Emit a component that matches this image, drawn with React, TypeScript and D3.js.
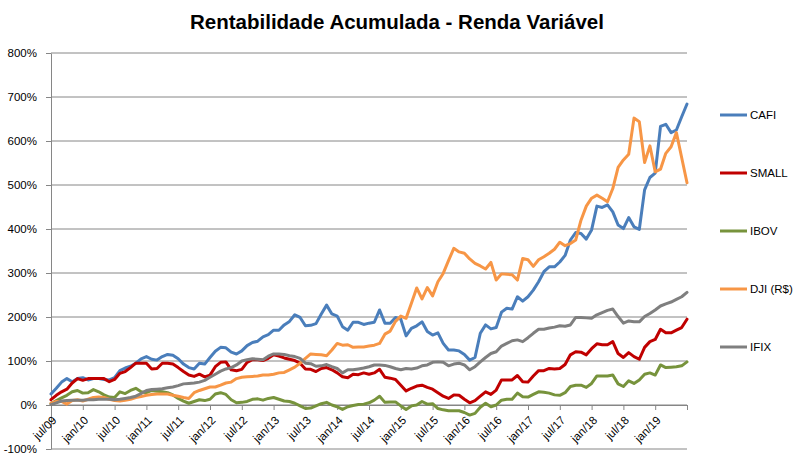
import React, { useEffect, useRef } from "react";
import * as d3 from "d3";

const width = 797;
const height = 463;
const plot = { left: 51, right: 687, top: 53, bottom: 449 };
const font = "'Liberation Sans', Arial, sans-serif";

// one value per month, jul/09 .. jul/19 (accumulated return, %)
const tickLabels = [
  "jul/09", "jan/10", "jul/10", "jan/11", "jul/11", "jan/12", "jul/12", "jan/13", "jul/13", "jan/14",
  "jul/14", "jan/15", "jul/15", "jan/16", "jul/16", "jan/17", "jul/17", "jan/18", "jul/18", "jan/19"
];
const yTicks = [-100, 0, 100, 200, 300, 400, 500, 600, 700, 800];

const cafi = [
  25, 38, 52, 60, 53, 60, 62, 57, 60, 60, 58, 57,
  62, 78, 84, 88, 95, 105, 110, 104, 102, 110, 115, 113,
  105, 93, 85, 82, 95, 93, 108, 122, 131, 130, 120, 116,
  123, 135, 142, 145, 155, 160, 170, 170, 182, 190,
  205, 199, 180, 181, 185, 207, 227, 207, 202, 178, 170, 188,
  188, 183, 186, 188, 216, 186, 186, 199, 195, 157, 174, 180,
  189, 167, 159, 164, 140, 125, 125, 123, 115, 102, 108, 163,
  182, 173, 176, 211, 220, 218, 246, 236, 246, 261, 280, 303,
  314, 314, 325, 340, 375, 392, 390, 377, 398, 452, 449, 455,
  439, 409, 401, 426, 405, 399, 489, 517, 527, 633, 638, 619,
  625, 655, 684
];
const small = [
  12, 22, 30, 36, 50, 60, 56, 60, 60, 60, 60, 53,
  58, 72, 76, 85, 95, 95, 95, 82, 83, 95, 95, 93,
  85, 76, 68, 65, 70, 64, 68, 87, 97, 98, 80, 78,
  81, 97, 103, 103, 101, 106, 114, 111, 107, 104,
  101, 95, 82, 81, 76, 83, 85, 80, 73, 64, 62, 70,
  69, 73, 70, 73, 81, 63, 61, 58, 45, 32, 38, 43,
  45, 40, 36, 28, 20, 15, 23, 22, 13, 5, 10, 20,
  30, 24, 34, 57, 57, 57, 67, 53, 52, 66, 78, 78,
  83, 82, 83, 92, 114, 121, 120, 114, 128, 139, 137, 137,
  144, 117, 108, 119, 110, 104, 131, 144, 149, 172, 164, 164,
  170, 176, 195
];
const ibov = [
  3, 10, 16, 22, 30, 33, 27, 28, 35, 30, 23, 18,
  17, 30, 26, 33, 38, 30, 28, 33, 31, 30, 28, 23,
  15, 9, 4, 8, 12, 10, 13, 25, 28, 24, 12, 5,
  6, 8, 13, 14, 11, 15, 17, 13, 9, 8,
  4, -2, -8, -7, -2, 3, 6, 0, -4, -10, -4, -1,
  1, 2, 5, 11, 20, 6, 7, 7, -2, -10, -2, 0,
  8, 2, 3, -8, -11, -13, -13, -13, -17, -23, -19, -5,
  4, -4, 0, 11, 13, 13, 27, 19, 18, 24, 30, 29,
  27, 23, 22, 28, 42, 45, 45, 40, 49, 66, 66, 66,
  68, 48, 42, 55, 49, 57, 70, 73, 68, 91, 85, 86,
  87, 89, 98
];
const dji = [
  4, 8, 8, 2, 10, 12, 9, 13, 17, 18, 17, 13,
  10, 9, 11, 13, 17, 19, 22, 24, 25, 25, 25, 22,
  20, 17, 15, 28, 33, 37, 41, 41, 45, 50, 52, 60,
  63, 64, 65, 66, 68, 68, 70, 73, 74, 80,
  86, 95, 106, 116, 115, 114, 112, 125, 140, 136, 137, 131,
  132, 132, 134, 136, 140, 161, 168, 190, 202, 197, 231, 266,
  241, 267, 248, 280, 299, 328, 356, 348, 345, 332, 322, 316,
  309, 324, 284, 298, 297, 296, 284, 333, 330, 315, 330, 337,
  345, 354, 370, 362, 367, 375, 420, 452, 470, 477, 470, 462,
  492, 540, 557, 570, 652, 644, 551, 589, 530, 536, 572, 587,
  619, 562, 505
];
const ifix = [
  1, 5, 9, 10, 11, 11, 11, 12, 12, 13, 13, 13,
  12, 13, 15, 17, 20, 26, 33, 35, 36, 37, 39, 41,
  44, 48, 49, 50, 52, 56, 63, 70, 77, 82, 85, 91,
  100, 103, 105, 104, 103, 111, 116, 116, 115, 112,
  110, 106, 95, 94, 88, 89, 92, 87, 83, 73, 80, 80,
  82, 84, 87, 91, 91, 90, 87, 83, 80, 83, 82, 84,
  89, 91, 97, 98, 97, 89, 93, 95, 91, 80, 87, 98,
  108, 117, 121, 134, 140, 146, 148, 144, 153, 163, 172, 172,
  175, 177, 180, 179, 182, 199, 199, 198, 197, 205, 210, 215,
  218, 201, 186, 191, 189, 189, 201, 208, 216, 225, 230, 234,
  240, 246, 256
];

const series = [
  { name: "CAFI", color: "#4A7EBB", values: cafi },
  { name: "SMALL", color: "#C00000", values: small },
  { name: "IBOV", color: "#77933C", values: ibov },
  { name: "DJI (R$)", color: "#F79646", values: dji },
  { name: "IFIX", color: "#7F7F7F", values: ifix }
];

const x = d3.scaleLinear().domain([0, cafi.length - 1]).range([plot.left, plot.right]);
const y = d3.scaleLinear().domain([-100, 800]).range([plot.bottom, plot.top]);
const line = d3
  .line<number>()
  .x((d, i) => x(i))
  .y((d) => y(d));

export default function App() {
  const xAxisRef = useRef<SVGGElement>(null);
  const yAxisRef = useRef<SVGGElement>(null);

  useEffect(() => {
    // y axis with percent labels
    const yAxis = d3
      .axisLeft(y)
      .tickValues(yTicks)
      .tickSize(5)
      .tickSizeOuter(0)
      .tickPadding(9)
      .tickFormat((d) => `${d}%`);
    const gy = d3.select(yAxisRef.current!).call(yAxis as any);
    gy.select(".domain").attr("stroke", "#868686");
    gy.selectAll(".tick line").attr("stroke", "#868686");
    gy.selectAll(".tick text")
      .attr("font-family", font)
      .attr("font-size", 11.5)
      .attr("fill", "#000");

    // x axis on the 0% line, a label every 6 months
    const xAxis = d3
      .axisBottom(x)
      .tickValues(d3.range(0, cafi.length, 6))
      .tickSize(5)
      .tickSizeOuter(0)
      .tickFormat((d) => tickLabels[(d as number) / 6] ?? "");
    const gx = d3.select(xAxisRef.current!).call(xAxis as any);
    gx.select(".domain").attr("stroke", "#868686");
    gx.selectAll(".tick line").attr("stroke", "#868686");
    gx.selectAll(".tick text")
      .attr("font-family", font)
      .attr("font-size", 11.5)
      .attr("fill", "#000")
      .attr("x", 0)
      .attr("y", 0)
      .attr("dy", "0.35em")
      .attr("text-anchor", "end")
      .attr("transform", "translate(3,13) rotate(-45)");
  }, []);

  return (
    <svg width={width} height={height} style={{ position: "absolute", left: 0, top: 0, background: "#fff" }}>
      <text x={397} y={29} textAnchor="middle" fontFamily={font} fontWeight="bold" fontSize={20.5}>
        Rentabilidade Acumulada - Renda Variável
      </text>

      {yTicks.map((t) => (
        <line key={t} x1={plot.left} x2={plot.right} y1={y(t)} y2={y(t)} stroke="#868686" strokeWidth={1} />
      ))}

      <g ref={yAxisRef} transform={`translate(${plot.left},0)`} />
      <g ref={xAxisRef} transform={`translate(0,${y(0)})`} />

      {series.map((s) => (
        <path
          key={s.name}
          d={line(s.values) ?? ""}
          fill="none"
          stroke={s.color}
          strokeWidth={3}
          strokeLinejoin="round"
          strokeLinecap="round"
        />
      ))}

      {series.map((s, i) => (
        <g key={s.name} transform={`translate(720,${115 + i * 58})`}>
          <line x1={0} x2={27} y1={0} y2={0} stroke={s.color} strokeWidth={3} />
          <text x={30} y={0} dy="0.35em" fontFamily={font} fontSize={11.5}>
            {s.name}
          </text>
        </g>
      ))}
    </svg>
  );
}
